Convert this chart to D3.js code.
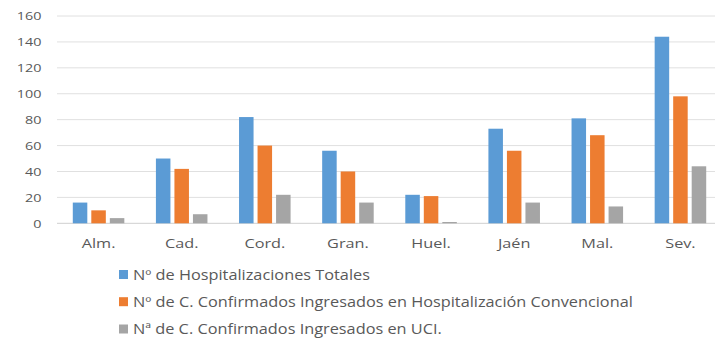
<!DOCTYPE html>
<html><head><meta charset="utf-8">
<script src="https://cdn.jsdelivr.net/npm/d3@7/dist/d3.min.js"></script>
<style>body{margin:0;background:#fff}svg{display:block}text{font-family:"Open Sans",sans-serif;fill:#595959}</style>
</head><body><svg id="c" width="715" height="349"></svg>
<script>
const categories = ["Alm.","Cad.","Cord.","Gran.","Huel.","Jaén","Mal.","Sev."];
const seriesNames = ["Nº de Hospitalizaciones Totales","Nº de C. Confirmados Ingresados en Hospitalización Convencional","Nª de C. Confirmados Ingresados en UCI."];
const totales = [16,50,82,56,22,73,81,144];
const convencional = [10,42,60,40,21,56,68,98];
const uci = [4,7,22,16,1,16,13,44];
const yTicks = [0,20,40,60,80,100,120,140,160];
const colors = ["#5B9BD5","#ED7D31","#A5A5A5"];
const seriesValues = [totales, convencional, uci];

const svg = d3.select("#c");
const mLeft = 57, mRight = 722, mTop = 16, mBottom = 223.3;
const x0 = d3.scaleBand().domain(categories).range([mLeft,mRight]).paddingInner(0).paddingOuter(0);
const x1 = d3.scaleBand().domain(d3.range(3)).range([0,x0.bandwidth()]).paddingInner(0.216).paddingOuter(0.853);
const y = d3.scaleLinear().domain([0,160]).range([mBottom,mTop]);

// grid
svg.append("g").selectAll("line").data(yTicks).join("line")
  .attr("x1",mLeft).attr("x2",715).attr("y1",d=>y(d)).attr("y2",d=>y(d))
  .attr("stroke",d=>d===0?"#CFCFCF":"#E0E0E0").attr("stroke-width",1);

// y labels
const sx = 1.25;
svg.append("g").selectAll("text").data(yTicks).join("text")
  .attr("transform",d=>`translate(41.5,${y(d)+4.3}) scale(${sx},1)`)
  .attr("text-anchor","end").attr("font-size",11.5).text(d=>d);

// bars
const g = svg.append("g");
seriesValues.forEach((vals,si)=>{
  g.append("g").selectAll("rect").data(vals).join("rect")
    .attr("x",(d,i)=>x0(categories[i])+x1(si))
    .attr("width",x1.bandwidth())
    .attr("y",d=>y(d)).attr("height",d=>y(0)-y(d))
    .attr("fill",colors[si]);
});

// x labels
svg.append("g").selectAll("text").data(categories).join("text")
  .attr("transform",d=>`translate(${x0(d)+x0.bandwidth()/2},247.5) scale(${sx},1)`)
  .attr("text-anchor","middle").attr("font-size",13).text(d=>d);

// legend
const lg = svg.append("g");
const rowY = [274.5,301.7,329];
seriesNames.forEach((n,i)=>{
  lg.append("rect").attr("x",119).attr("y",rowY[i]-4.5).attr("width",9).attr("height",9).attr("fill",colors[i]);
  lg.append("text").attr("transform",`translate(133,${rowY[i]+5}) scale(1.165,1)`)
    .attr("font-size",14).text(n);
});
</script></body></html>
